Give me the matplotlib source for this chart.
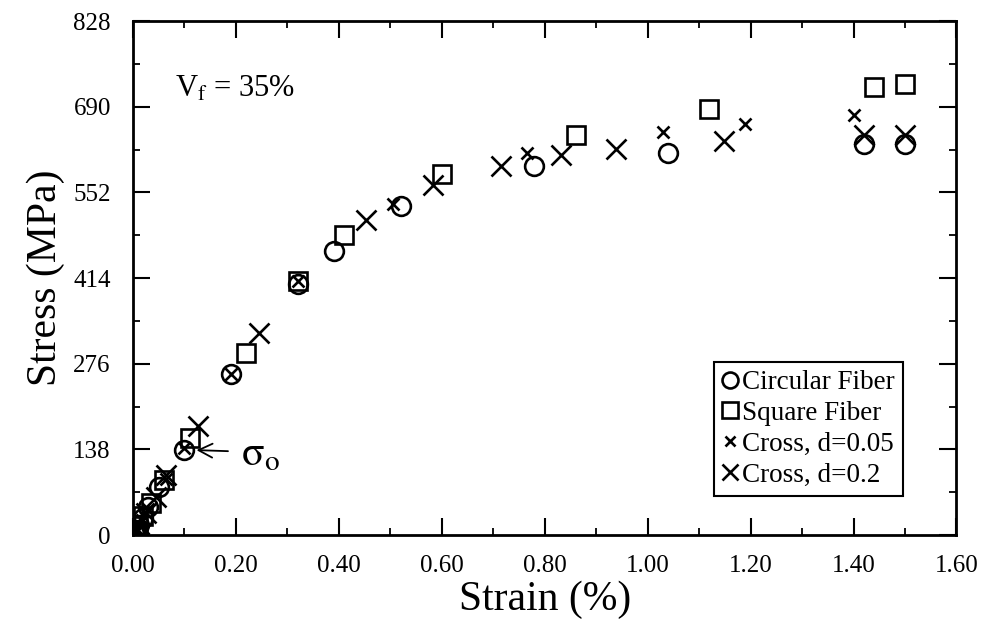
import numpy as np
import matplotlib
matplotlib.use('Agg')
import matplotlib.pyplot as plt
from matplotlib.ticker import MultipleLocator, FormatStrFormatter

plt.rcParams['font.family'] = ['Liberation Serif', 'DejaVu Serif']
plt.rcParams['mathtext.fontset'] = 'stix'

# strain (%) and stress (MPa)
circ_x = [0.002, 0.006, 0.012, 0.02, 0.03, 0.05, 0.10, 0.19, 0.32, 0.39, 0.52, 0.78, 1.04, 1.42, 1.50]
circ_y = [3, 8, 16, 28, 45, 78, 137, 259, 405, 457, 530, 595, 615, 630, 630]

sq_x = [0.004, 0.01, 0.02, 0.035, 0.06, 0.11, 0.22, 0.32, 0.41, 0.60, 0.86, 1.12, 1.44, 1.50]
sq_y = [6, 14, 30, 52, 88, 156, 294, 410, 483, 581, 645, 686, 722, 727]

cr05_x = [0.003, 0.008, 0.018, 0.03, 0.065, 0.10, 0.19, 0.32, 0.505, 0.765, 1.03, 1.19, 1.40]
cr05_y = [4, 10, 24, 42, 90, 140, 259, 410, 534, 615, 650, 663, 677]

cr2_x = [0.005, 0.012, 0.025, 0.045, 0.065, 0.127, 0.245, 0.453, 0.583, 0.715, 0.832, 0.938, 1.148, 1.42, 1.50]
cr2_y = [6, 18, 35, 62, 97, 176, 326, 507, 564, 595, 612, 622, 635, 645, 645]

fig = plt.figure(figsize=(9.85, 6.2), dpi=100)
ax = fig.add_axes([0.135, 0.137, 0.836, 0.829])

ax.plot(circ_x, circ_y, 'o', ms=13.5, mfc='none', mec='k', mew=1.9, ls='none', label='Circular Fiber')
ax.plot(sq_x, sq_y, 's', ms=13.5, mfc='none', mec='k', mew=1.9, ls='none', label='Square Fiber')
ax.plot(cr05_x, cr05_y, 'x', ms=9, mec='k', mew=1.9, ls='none', label='Cross, d=0.05')
ax.plot(cr2_x, cr2_y, 'x', ms=14, mec='k', mew=1.9, ls='none', label='Cross, d=0.2')

ax.set_xlim(0, 1.6)
ax.set_ylim(0, 828)
ax.xaxis.set_major_locator(MultipleLocator(0.2))
ax.xaxis.set_minor_locator(MultipleLocator(0.1))
ax.xaxis.set_major_formatter(FormatStrFormatter('%.2f'))
ax.yaxis.set_major_locator(MultipleLocator(138))
ax.yaxis.set_minor_locator(MultipleLocator(69))
ax.tick_params(which='both', direction='in', top=True, right=True, labelsize=18)
ax.tick_params(which='major', length=12, width=1.5)
ax.tick_params(which='minor', length=5, width=1.3)
ax.tick_params(axis='x', pad=14)
ax.tick_params(axis='y', pad=16)
for s in ax.spines.values():
    s.set_linewidth(2)

ax.set_xlabel('Strain (%)', fontsize=30, labelpad=3)
ax.set_ylabel('Stress (MPa)', fontsize=30, labelpad=6)

ax.text(0.051, 0.852, r'V$_\mathrm{f}$ = 35%', transform=ax.transAxes, fontsize=22, va='baseline')

ax.annotate('', xy=(0.118, 137), xytext=(0.19, 135),
            arrowprops=dict(arrowstyle='->', color='k', lw=1.3, mutation_scale=25))
ax.text(0.21, 129, r'$\mathrm{\sigma}_{\mathrm{o}}$', fontsize=30, va='center')

leg = ax.legend(loc='lower left', bbox_to_anchor=(0.705, 0.076), fontsize=19.5,
                fancybox=False, edgecolor='k', framealpha=1, borderaxespad=0,
                handlelength=0.6, handletextpad=0.15, labelspacing=0.22, borderpad=0.3,
                markerscale=0.85)
leg.get_frame().set_linewidth(1.5)

fig.savefig('out.png', dpi=100)
